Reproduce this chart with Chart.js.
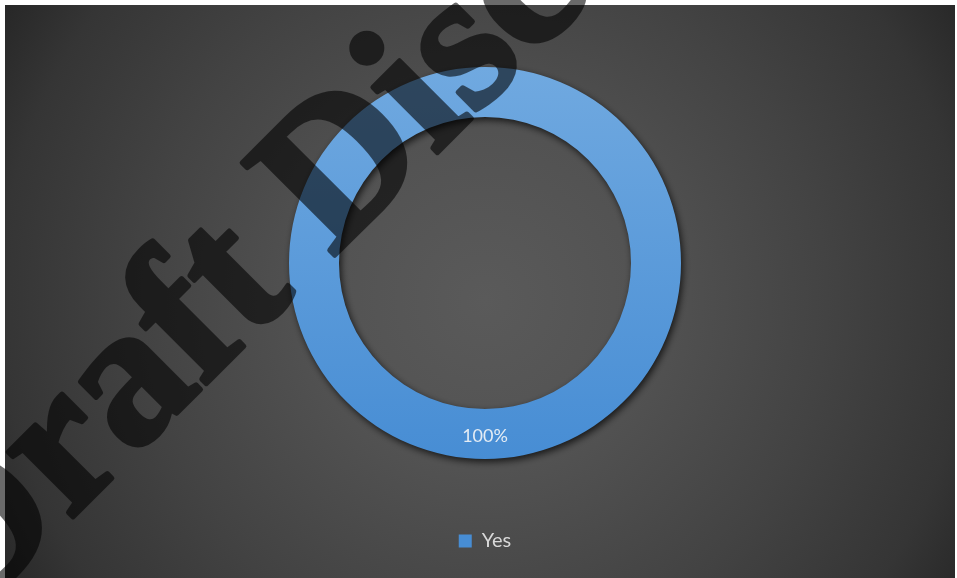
<!DOCTYPE html>
<html>
<head>
<meta charset="utf-8">
<script src="https://cdn.jsdelivr.net/npm/chart.js@4.4.1/dist/chart.umd.min.js"></script>
<style>
  html, body { margin: 0; padding: 0; background: #ffffff; }
  #wrap { position: relative; width: 957px; height: 578px; }
</style>
</head>
<body>
<div id="wrap"><canvas id="grafico" width="957" height="578"></canvas></div>
<script>
  // Datos del gráfico
  var categorias = ['Yes'];
  var valores = [100];
  var etiquetas = ['100%'];
  var textoMarca = 'Draft Disc';

  // Fondo: margen blanco y degradado radial oscuro
  var fondoPlugin = {
    id: 'fondo',
    beforeDraw: function (chart) {
      var ctx = chart.ctx;
      ctx.save();
      ctx.fillStyle = '#ffffff';
      ctx.fillRect(0, 0, chart.width, chart.height);
      var g = ctx.createRadialGradient(485, 300, 0, 485, 300, 570);
      g.addColorStop(0, '#5a5a5a');
      g.addColorStop(0.3, '#525252');
      g.addColorStop(0.6, '#434343');
      g.addColorStop(0.85, '#353535');
      g.addColorStop(1, '#262626');
      ctx.fillStyle = g;
      ctx.fillRect(5, 5, 950, 573);
      ctx.restore();
    }
  };

  // Sombra del anillo
  var sombraPlugin = {
    id: 'sombra',
    beforeDatasetDraw: function (chart) {
      var ctx = chart.ctx;
      ctx.save();
      ctx.shadowColor = 'rgba(0,0,0,0.7)';
      ctx.shadowBlur = 7;
      ctx.shadowOffsetX = 2;
      ctx.shadowOffsetY = 3;
    },
    afterDatasetDraw: function (chart) {
      chart.ctx.restore();
    }
  };

  // Etiqueta de porcentaje sobre el arco
  var etiquetaPlugin = {
    id: 'etiqueta',
    afterDatasetsDraw: function (chart) {
      var ctx = chart.ctx;
      var meta = chart.getDatasetMeta(0);
      ctx.save();
      ctx.font = '18px Lato, "Open Sans", sans-serif';
      ctx.fillStyle = '#e4ecf4';
      ctx.textAlign = 'center';
      ctx.textBaseline = 'middle';
      meta.data.forEach(function (arco, i) {
        var p = arco.tooltipPosition();
        ctx.fillText(etiquetas[i], p.x, p.y + 2);
      });
      ctx.restore();
    }
  };

  // Marca de agua diagonal (se dibuja aparte y se compone con transparencia)
  var marcaPlugin = {
    id: 'marca',
    afterDraw: function (chart) {
      var capa = document.createElement('canvas');
      capa.width = chart.width;
      capa.height = chart.height;
      var c2 = capa.getContext('2d');
      c2.translate(-33, 623);
      c2.rotate(-45 * Math.PI / 180);
      c2.font = 'bold 200px "Liberation Serif", serif';
      c2.fillStyle = '#000000';
      c2.strokeStyle = '#000000';
      c2.lineWidth = 5;
      c2.lineJoin = 'round';
      c2.textBaseline = 'alphabetic';
      c2.fillText(textoMarca, 0, 0);
      c2.strokeText(textoMarca, 0, 0);

      var ctx = chart.ctx;
      ctx.save();
      ctx.globalAlpha = 0.58;
      ctx.drawImage(capa, 0, 0);
      ctx.restore();
    }
  };

  var ctx = document.getElementById('grafico').getContext('2d');
  var grafico = new Chart(ctx, {
    type: 'doughnut',
    data: {
      labels: categorias,
      datasets: [{
        data: valores,
        backgroundColor: function (c) {
          var area = c.chart.chartArea;
          if (!area) return '#5b9bd5';
          var g = c.chart.ctx.createLinearGradient(0, 67, 0, 460);
          g.addColorStop(0, '#70a9e0');
          g.addColorStop(1, '#478dd4');
          return g;
        },
        borderWidth: 0
      }]
    },
    options: {
      responsive: false,
      animation: false,
      radius: 196,
      cutout: '74.5%',
      layout: { padding: { top: 5, bottom: 17, left: 13, right: 0 } },
      plugins: {
        legend: {
          position: 'bottom',
          labels: {
            color: '#d9d9d9',
            font: { family: 'Lato, "Open Sans", sans-serif', size: 20 },
            boxWidth: 13,
            boxHeight: 13,
            padding: 10
          }
        },
        tooltip: { enabled: false }
      }
    },
    plugins: [fondoPlugin, sombraPlugin, etiquetaPlugin, marcaPlugin]
  });
</script>
</body>
</html>
